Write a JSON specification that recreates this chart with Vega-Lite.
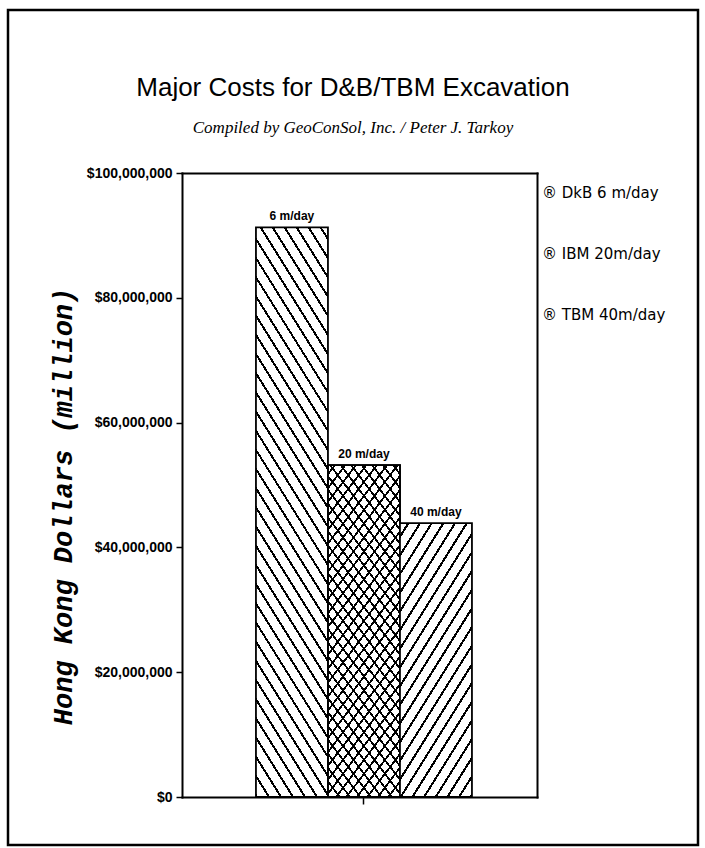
{
  "$schema": "https://vega.github.io/schema/vega-lite/v6.json",
  "width": 690,
  "height": 835,
  "autosize": {"type": "none"},
  "padding": {"left": 8, "top": 10, "right": 7, "bottom": 3},
  "background": "white",
  "title": {
    "text": "Major Costs for D&B/TBM Excavation",
    "subtitle": "Compiled by GeoConSol, Inc. / Peter J. Tarkoy",
    "anchor": "middle",
    "frame": "group",
    "orient": "top",
    "offset": 0,
    "dy": 126,
    "font": "Liberation Sans",
    "fontSize": 26,
    "fontWeight": "normal",
    "color": "black",
    "subtitleFont": "Liberation Serif",
    "subtitleFontStyle": "italic",
    "subtitleFontSize": 17,
    "subtitleColor": "black",
    "subtitlePadding": 19
  },
  "data": {
    "values": [
      {"series": "DkB", "value": 91300000, "label": "6 m/day", "legend": "® DkB 6 m/day"},
      {"series": "IBM", "value": 53200000, "label": "20 m/day", "legend": "® IBM 20m/day"},
      {"series": "TBM", "value": 43900000, "label": "40 m/day", "legend": "® TBM 40m/day"}
    ]
  },
  "resolve": {"axis": {"x": "independent", "y": "independent"}},
  "layer": [
    {
      "transform": [{"filter": "datum.series === 'DkB'"}],
      "mark": {
        "type": "bar", "stroke": "black", "strokeWidth": 1.8,
        "fill": {"gradient": "linear", "x1": 0, "y1": 1, "x2": 0.2336, "y2": -0.155, "stops": [
          {"offset":0,"color":"#000"},{"offset":0.0055,"color":"#000"},{"offset":0.0055,"color":"#fff"},{"offset":0.028,"color":"#fff"},
          {"offset":0.028,"color":"#000"},{"offset":0.0335,"color":"#000"},{"offset":0.0335,"color":"#fff"},{"offset":0.056,"color":"#fff"},
          {"offset":0.056,"color":"#000"},{"offset":0.0615,"color":"#000"},{"offset":0.0615,"color":"#fff"},{"offset":0.084,"color":"#fff"},
          {"offset":0.084,"color":"#000"},{"offset":0.0895,"color":"#000"},{"offset":0.0895,"color":"#fff"},{"offset":0.112,"color":"#fff"},
          {"offset":0.112,"color":"#000"},{"offset":0.1175,"color":"#000"},{"offset":0.1175,"color":"#fff"},{"offset":0.14,"color":"#fff"},
          {"offset":0.14,"color":"#000"},{"offset":0.1455,"color":"#000"},{"offset":0.1455,"color":"#fff"},{"offset":0.168,"color":"#fff"},
          {"offset":0.168,"color":"#000"},{"offset":0.1735,"color":"#000"},{"offset":0.1735,"color":"#fff"},{"offset":0.196,"color":"#fff"},
          {"offset":0.196,"color":"#000"},{"offset":0.2015,"color":"#000"},{"offset":0.2015,"color":"#fff"},{"offset":0.224,"color":"#fff"},
          {"offset":0.224,"color":"#000"},{"offset":0.2295,"color":"#000"},{"offset":0.2295,"color":"#fff"},{"offset":0.252,"color":"#fff"},
          {"offset":0.252,"color":"#000"},{"offset":0.2575,"color":"#000"},{"offset":0.2575,"color":"#fff"},{"offset":0.28,"color":"#fff"},
          {"offset":0.28,"color":"#000"},{"offset":0.2855,"color":"#000"},{"offset":0.2855,"color":"#fff"},{"offset":0.308,"color":"#fff"},
          {"offset":0.308,"color":"#000"},{"offset":0.3135,"color":"#000"},{"offset":0.3135,"color":"#fff"},{"offset":0.336,"color":"#fff"},
          {"offset":0.336,"color":"#000"},{"offset":0.3415,"color":"#000"},{"offset":0.3415,"color":"#fff"},{"offset":0.364,"color":"#fff"},
          {"offset":0.364,"color":"#000"},{"offset":0.3695,"color":"#000"},{"offset":0.3695,"color":"#fff"},{"offset":0.392,"color":"#fff"},
          {"offset":0.392,"color":"#000"},{"offset":0.3975,"color":"#000"},{"offset":0.3975,"color":"#fff"},{"offset":0.42,"color":"#fff"},
          {"offset":0.42,"color":"#000"},{"offset":0.4255,"color":"#000"},{"offset":0.4255,"color":"#fff"},{"offset":0.448,"color":"#fff"},
          {"offset":0.448,"color":"#000"},{"offset":0.4535,"color":"#000"},{"offset":0.4535,"color":"#fff"},{"offset":0.476,"color":"#fff"},
          {"offset":0.476,"color":"#000"},{"offset":0.4815,"color":"#000"},{"offset":0.4815,"color":"#fff"},{"offset":0.504,"color":"#fff"},
          {"offset":0.504,"color":"#000"},{"offset":0.5095,"color":"#000"},{"offset":0.5095,"color":"#fff"},{"offset":0.532,"color":"#fff"},
          {"offset":0.532,"color":"#000"},{"offset":0.5375,"color":"#000"},{"offset":0.5375,"color":"#fff"},{"offset":0.56,"color":"#fff"},
          {"offset":0.56,"color":"#000"},{"offset":0.5655,"color":"#000"},{"offset":0.5655,"color":"#fff"},{"offset":0.588,"color":"#fff"},
          {"offset":0.588,"color":"#000"},{"offset":0.5935,"color":"#000"},{"offset":0.5935,"color":"#fff"},{"offset":0.616,"color":"#fff"},
          {"offset":0.616,"color":"#000"},{"offset":0.6215,"color":"#000"},{"offset":0.6215,"color":"#fff"},{"offset":0.644,"color":"#fff"},
          {"offset":0.644,"color":"#000"},{"offset":0.6495,"color":"#000"},{"offset":0.6495,"color":"#fff"},{"offset":0.672,"color":"#fff"},
          {"offset":0.672,"color":"#000"},{"offset":0.6775,"color":"#000"},{"offset":0.6775,"color":"#fff"},{"offset":0.7,"color":"#fff"},
          {"offset":0.7,"color":"#000"},{"offset":0.7055,"color":"#000"},{"offset":0.7055,"color":"#fff"},{"offset":0.728,"color":"#fff"},
          {"offset":0.728,"color":"#000"},{"offset":0.7335,"color":"#000"},{"offset":0.7335,"color":"#fff"},{"offset":0.756,"color":"#fff"},
          {"offset":0.756,"color":"#000"},{"offset":0.7615,"color":"#000"},{"offset":0.7615,"color":"#fff"},{"offset":0.784,"color":"#fff"},
          {"offset":0.784,"color":"#000"},{"offset":0.7895,"color":"#000"},{"offset":0.7895,"color":"#fff"},{"offset":0.812,"color":"#fff"},
          {"offset":0.812,"color":"#000"},{"offset":0.8175,"color":"#000"},{"offset":0.8175,"color":"#fff"},{"offset":0.84,"color":"#fff"},
          {"offset":0.84,"color":"#000"},{"offset":0.8455,"color":"#000"},{"offset":0.8455,"color":"#fff"},{"offset":0.868,"color":"#fff"},
          {"offset":0.868,"color":"#000"},{"offset":0.8735,"color":"#000"},{"offset":0.8735,"color":"#fff"},{"offset":0.896,"color":"#fff"},
          {"offset":0.896,"color":"#000"},{"offset":0.9015,"color":"#000"},{"offset":0.9015,"color":"#fff"},{"offset":0.924,"color":"#fff"},
          {"offset":0.924,"color":"#000"},{"offset":0.9295,"color":"#000"},{"offset":0.9295,"color":"#fff"},{"offset":0.952,"color":"#fff"},
          {"offset":0.952,"color":"#000"},{"offset":0.9575,"color":"#000"},{"offset":0.9575,"color":"#fff"},{"offset":0.98,"color":"#fff"},
          {"offset":0.98,"color":"#000"},{"offset":0.9855,"color":"#000"},{"offset":0.9855,"color":"#fff"},{"offset":1,"color":"#fff"}
        ]}
      },
      "encoding": {
        "x": {"field": "series", "type": "nominal", "sort": ["DkB", "IBM", "TBM"],
          "scale": {"domain": ["DkB", "IBM", "TBM"], "range": [174, 529], "paddingInner": 0, "paddingOuter": 0.9653, "align": 0.532},
          "axis": {"orient": "bottom", "offset": -48, "values": ["IBM"], "labels": false, "ticks": true, "tickSize": 7, "tickColor": "black", "tickWidth": 1.5, "domainColor": "black", "domainWidth": 2, "title": null, "grid": false}},
        "y": {"field": "value", "type": "quantitative",
          "scale": {"domain": [0, 100000000], "range": [787, 163], "nice": false, "zero": true},
          "axis": {"orient": "left", "offset": -174, "values": [0, 20000000, 40000000, 60000000, 80000000, 100000000], "format": "$,.0f",
            "labelFont": "Liberation Sans", "labelFontWeight": "bold", "labelFontSize": 14, "labelColor": "black", "labelPadding": 4,
            "tickSize": 6, "tickColor": "black", "tickWidth": 1.5, "domainColor": "black", "domainWidth": 2, "grid": false,
            "title": "Hong Kong Dollars (million)", "titleFont": "'Liberation Mono', monospace", "titleFontStyle": "italic", "titleFontWeight": "bold", "titleFontSize": 27, "titleColor": "black",
            "titleAngle": 270, "titleAlign": "center", "titleBaseline": "middle", "titleX": -119, "titleY": 496}}
      }
    },
    {
      "transform": [{"filter": "datum.series === 'IBM'"}],
      "mark": {
        "type": "bar", "stroke": "black", "strokeWidth": 1.8,
        "fill": {"gradient": "linear", "x1": 0, "y1": 1, "x2": 0.3422, "y2": -0.1893, "stops": [
          {"offset":0,"color":"#000"},{"offset":0.007,"color":"#000"},{"offset":0.007,"color":"#fff"},{"offset":0.0325,"color":"#fff"},
          {"offset":0.0325,"color":"#000"},{"offset":0.0395,"color":"#000"},{"offset":0.0395,"color":"#fff"},{"offset":0.065,"color":"#fff"},
          {"offset":0.065,"color":"#000"},{"offset":0.072,"color":"#000"},{"offset":0.072,"color":"#fff"},{"offset":0.0975,"color":"#fff"},
          {"offset":0.0975,"color":"#000"},{"offset":0.1045,"color":"#000"},{"offset":0.1045,"color":"#fff"},{"offset":0.13,"color":"#fff"},
          {"offset":0.13,"color":"#000"},{"offset":0.137,"color":"#000"},{"offset":0.137,"color":"#fff"},{"offset":0.1625,"color":"#fff"},
          {"offset":0.1625,"color":"#000"},{"offset":0.1695,"color":"#000"},{"offset":0.1695,"color":"#fff"},{"offset":0.195,"color":"#fff"},
          {"offset":0.195,"color":"#000"},{"offset":0.202,"color":"#000"},{"offset":0.202,"color":"#fff"},{"offset":0.2275,"color":"#fff"},
          {"offset":0.2275,"color":"#000"},{"offset":0.2345,"color":"#000"},{"offset":0.2345,"color":"#fff"},{"offset":0.26,"color":"#fff"},
          {"offset":0.26,"color":"#000"},{"offset":0.267,"color":"#000"},{"offset":0.267,"color":"#fff"},{"offset":0.2925,"color":"#fff"},
          {"offset":0.2925,"color":"#000"},{"offset":0.2995,"color":"#000"},{"offset":0.2995,"color":"#fff"},{"offset":0.325,"color":"#fff"},
          {"offset":0.325,"color":"#000"},{"offset":0.332,"color":"#000"},{"offset":0.332,"color":"#fff"},{"offset":0.3575,"color":"#fff"},
          {"offset":0.3575,"color":"#000"},{"offset":0.3645,"color":"#000"},{"offset":0.3645,"color":"#fff"},{"offset":0.39,"color":"#fff"},
          {"offset":0.39,"color":"#000"},{"offset":0.397,"color":"#000"},{"offset":0.397,"color":"#fff"},{"offset":0.4225,"color":"#fff"},
          {"offset":0.4225,"color":"#000"},{"offset":0.4295,"color":"#000"},{"offset":0.4295,"color":"#fff"},{"offset":0.455,"color":"#fff"},
          {"offset":0.455,"color":"#000"},{"offset":0.462,"color":"#000"},{"offset":0.462,"color":"#fff"},{"offset":0.4875,"color":"#fff"},
          {"offset":0.4875,"color":"#000"},{"offset":0.4945,"color":"#000"},{"offset":0.4945,"color":"#fff"},{"offset":0.52,"color":"#fff"},
          {"offset":0.52,"color":"#000"},{"offset":0.527,"color":"#000"},{"offset":0.527,"color":"#fff"},{"offset":0.5525,"color":"#fff"},
          {"offset":0.5525,"color":"#000"},{"offset":0.5595,"color":"#000"},{"offset":0.5595,"color":"#fff"},{"offset":0.585,"color":"#fff"},
          {"offset":0.585,"color":"#000"},{"offset":0.592,"color":"#000"},{"offset":0.592,"color":"#fff"},{"offset":0.6175,"color":"#fff"},
          {"offset":0.6175,"color":"#000"},{"offset":0.6245,"color":"#000"},{"offset":0.6245,"color":"#fff"},{"offset":0.65,"color":"#fff"},
          {"offset":0.65,"color":"#000"},{"offset":0.657,"color":"#000"},{"offset":0.657,"color":"#fff"},{"offset":0.6825,"color":"#fff"},
          {"offset":0.6825,"color":"#000"},{"offset":0.6895,"color":"#000"},{"offset":0.6895,"color":"#fff"},{"offset":0.715,"color":"#fff"},
          {"offset":0.715,"color":"#000"},{"offset":0.722,"color":"#000"},{"offset":0.722,"color":"#fff"},{"offset":0.7475,"color":"#fff"},
          {"offset":0.7475,"color":"#000"},{"offset":0.7545,"color":"#000"},{"offset":0.7545,"color":"#fff"},{"offset":0.78,"color":"#fff"},
          {"offset":0.78,"color":"#000"},{"offset":0.787,"color":"#000"},{"offset":0.787,"color":"#fff"},{"offset":0.8125,"color":"#fff"},
          {"offset":0.8125,"color":"#000"},{"offset":0.8195,"color":"#000"},{"offset":0.8195,"color":"#fff"},{"offset":0.845,"color":"#fff"},
          {"offset":0.845,"color":"#000"},{"offset":0.852,"color":"#000"},{"offset":0.852,"color":"#fff"},{"offset":0.8775,"color":"#fff"},
          {"offset":0.8775,"color":"#000"},{"offset":0.8845,"color":"#000"},{"offset":0.8845,"color":"#fff"},{"offset":0.91,"color":"#fff"},
          {"offset":0.91,"color":"#000"},{"offset":0.917,"color":"#000"},{"offset":0.917,"color":"#fff"},{"offset":0.9425,"color":"#fff"},
          {"offset":0.9425,"color":"#000"},{"offset":0.9495,"color":"#000"},{"offset":0.9495,"color":"#fff"},{"offset":0.975,"color":"#fff"},
          {"offset":0.975,"color":"#000"},{"offset":0.982,"color":"#000"},{"offset":0.982,"color":"#fff"},{"offset":1,"color":"#fff"}
        ]}
      },
      "encoding": {
        "x": {"field": "series", "type": "nominal", "sort": ["DkB", "IBM", "TBM"], "scale": {"domain": ["DkB", "IBM", "TBM"], "range": [174, 529], "paddingInner": 0, "paddingOuter": 0.9653, "align": 0.532}, "axis": null},
        "y": {"field": "value", "type": "quantitative", "scale": {"domain": [0, 100000000], "range": [787, 163], "nice": false, "zero": true}, "axis": null}
      }
    },
    {
      "transform": [{"filter": "datum.series === 'IBM'"}],
      "mark": {
        "type": "bar", "stroke": "black", "strokeWidth": 1.8,
        "fill": {"gradient": "linear", "x1": 1, "y1": 1, "x2": 0.6578, "y2": -0.1893, "stops": [
          {"offset":0,"color":"#000"},{"offset":0.007,"color":"#000"},{"offset":0.007,"color":"rgba(255,255,255,0)"},{"offset":0.0325,"color":"rgba(255,255,255,0)"},
          {"offset":0.0325,"color":"#000"},{"offset":0.0395,"color":"#000"},{"offset":0.0395,"color":"rgba(255,255,255,0)"},{"offset":0.065,"color":"rgba(255,255,255,0)"},
          {"offset":0.065,"color":"#000"},{"offset":0.072,"color":"#000"},{"offset":0.072,"color":"rgba(255,255,255,0)"},{"offset":0.0975,"color":"rgba(255,255,255,0)"},
          {"offset":0.0975,"color":"#000"},{"offset":0.1045,"color":"#000"},{"offset":0.1045,"color":"rgba(255,255,255,0)"},{"offset":0.13,"color":"rgba(255,255,255,0)"},
          {"offset":0.13,"color":"#000"},{"offset":0.137,"color":"#000"},{"offset":0.137,"color":"rgba(255,255,255,0)"},{"offset":0.1625,"color":"rgba(255,255,255,0)"},
          {"offset":0.1625,"color":"#000"},{"offset":0.1695,"color":"#000"},{"offset":0.1695,"color":"rgba(255,255,255,0)"},{"offset":0.195,"color":"rgba(255,255,255,0)"},
          {"offset":0.195,"color":"#000"},{"offset":0.202,"color":"#000"},{"offset":0.202,"color":"rgba(255,255,255,0)"},{"offset":0.2275,"color":"rgba(255,255,255,0)"},
          {"offset":0.2275,"color":"#000"},{"offset":0.2345,"color":"#000"},{"offset":0.2345,"color":"rgba(255,255,255,0)"},{"offset":0.26,"color":"rgba(255,255,255,0)"},
          {"offset":0.26,"color":"#000"},{"offset":0.267,"color":"#000"},{"offset":0.267,"color":"rgba(255,255,255,0)"},{"offset":0.2925,"color":"rgba(255,255,255,0)"},
          {"offset":0.2925,"color":"#000"},{"offset":0.2995,"color":"#000"},{"offset":0.2995,"color":"rgba(255,255,255,0)"},{"offset":0.325,"color":"rgba(255,255,255,0)"},
          {"offset":0.325,"color":"#000"},{"offset":0.332,"color":"#000"},{"offset":0.332,"color":"rgba(255,255,255,0)"},{"offset":0.3575,"color":"rgba(255,255,255,0)"},
          {"offset":0.3575,"color":"#000"},{"offset":0.3645,"color":"#000"},{"offset":0.3645,"color":"rgba(255,255,255,0)"},{"offset":0.39,"color":"rgba(255,255,255,0)"},
          {"offset":0.39,"color":"#000"},{"offset":0.397,"color":"#000"},{"offset":0.397,"color":"rgba(255,255,255,0)"},{"offset":0.4225,"color":"rgba(255,255,255,0)"},
          {"offset":0.4225,"color":"#000"},{"offset":0.4295,"color":"#000"},{"offset":0.4295,"color":"rgba(255,255,255,0)"},{"offset":0.455,"color":"rgba(255,255,255,0)"},
          {"offset":0.455,"color":"#000"},{"offset":0.462,"color":"#000"},{"offset":0.462,"color":"rgba(255,255,255,0)"},{"offset":0.4875,"color":"rgba(255,255,255,0)"},
          {"offset":0.4875,"color":"#000"},{"offset":0.4945,"color":"#000"},{"offset":0.4945,"color":"rgba(255,255,255,0)"},{"offset":0.52,"color":"rgba(255,255,255,0)"},
          {"offset":0.52,"color":"#000"},{"offset":0.527,"color":"#000"},{"offset":0.527,"color":"rgba(255,255,255,0)"},{"offset":0.5525,"color":"rgba(255,255,255,0)"},
          {"offset":0.5525,"color":"#000"},{"offset":0.5595,"color":"#000"},{"offset":0.5595,"color":"rgba(255,255,255,0)"},{"offset":0.585,"color":"rgba(255,255,255,0)"},
          {"offset":0.585,"color":"#000"},{"offset":0.592,"color":"#000"},{"offset":0.592,"color":"rgba(255,255,255,0)"},{"offset":0.6175,"color":"rgba(255,255,255,0)"},
          {"offset":0.6175,"color":"#000"},{"offset":0.6245,"color":"#000"},{"offset":0.6245,"color":"rgba(255,255,255,0)"},{"offset":0.65,"color":"rgba(255,255,255,0)"},
          {"offset":0.65,"color":"#000"},{"offset":0.657,"color":"#000"},{"offset":0.657,"color":"rgba(255,255,255,0)"},{"offset":0.6825,"color":"rgba(255,255,255,0)"},
          {"offset":0.6825,"color":"#000"},{"offset":0.6895,"color":"#000"},{"offset":0.6895,"color":"rgba(255,255,255,0)"},{"offset":0.715,"color":"rgba(255,255,255,0)"},
          {"offset":0.715,"color":"#000"},{"offset":0.722,"color":"#000"},{"offset":0.722,"color":"rgba(255,255,255,0)"},{"offset":0.7475,"color":"rgba(255,255,255,0)"},
          {"offset":0.7475,"color":"#000"},{"offset":0.7545,"color":"#000"},{"offset":0.7545,"color":"rgba(255,255,255,0)"},{"offset":0.78,"color":"rgba(255,255,255,0)"},
          {"offset":0.78,"color":"#000"},{"offset":0.787,"color":"#000"},{"offset":0.787,"color":"rgba(255,255,255,0)"},{"offset":0.8125,"color":"rgba(255,255,255,0)"},
          {"offset":0.8125,"color":"#000"},{"offset":0.8195,"color":"#000"},{"offset":0.8195,"color":"rgba(255,255,255,0)"},{"offset":0.845,"color":"rgba(255,255,255,0)"},
          {"offset":0.845,"color":"#000"},{"offset":0.852,"color":"#000"},{"offset":0.852,"color":"rgba(255,255,255,0)"},{"offset":0.8775,"color":"rgba(255,255,255,0)"},
          {"offset":0.8775,"color":"#000"},{"offset":0.8845,"color":"#000"},{"offset":0.8845,"color":"rgba(255,255,255,0)"},{"offset":0.91,"color":"rgba(255,255,255,0)"},
          {"offset":0.91,"color":"#000"},{"offset":0.917,"color":"#000"},{"offset":0.917,"color":"rgba(255,255,255,0)"},{"offset":0.9425,"color":"rgba(255,255,255,0)"},
          {"offset":0.9425,"color":"#000"},{"offset":0.9495,"color":"#000"},{"offset":0.9495,"color":"rgba(255,255,255,0)"},{"offset":0.975,"color":"rgba(255,255,255,0)"},
          {"offset":0.975,"color":"#000"},{"offset":0.982,"color":"#000"},{"offset":0.982,"color":"rgba(255,255,255,0)"},{"offset":1,"color":"rgba(255,255,255,0)"}
        ]}
      },
      "encoding": {
        "x": {"field": "series", "type": "nominal", "sort": ["DkB", "IBM", "TBM"], "scale": {"domain": ["DkB", "IBM", "TBM"], "range": [174, 529], "paddingInner": 0, "paddingOuter": 0.9653, "align": 0.532}, "axis": null},
        "y": {"field": "value", "type": "quantitative", "scale": {"domain": [0, 100000000], "range": [787, 163], "nice": false, "zero": true}, "axis": null}
      }
    },
    {
      "transform": [{"filter": "datum.series === 'TBM'"}],
      "mark": {
        "type": "bar", "stroke": "black", "strokeWidth": 1.8,
        "fill": {"gradient": "linear", "x1": 1, "y1": 1, "x2": 0.4923, "y2": -0.2071, "stops": [
          {"offset":0,"color":"#000"},{"offset":0.01,"color":"#000"},{"offset":0.01,"color":"#fff"},{"offset":0.048,"color":"#fff"},
          {"offset":0.048,"color":"#000"},{"offset":0.058,"color":"#000"},{"offset":0.058,"color":"#fff"},{"offset":0.096,"color":"#fff"},
          {"offset":0.096,"color":"#000"},{"offset":0.106,"color":"#000"},{"offset":0.106,"color":"#fff"},{"offset":0.144,"color":"#fff"},
          {"offset":0.144,"color":"#000"},{"offset":0.154,"color":"#000"},{"offset":0.154,"color":"#fff"},{"offset":0.192,"color":"#fff"},
          {"offset":0.192,"color":"#000"},{"offset":0.202,"color":"#000"},{"offset":0.202,"color":"#fff"},{"offset":0.24,"color":"#fff"},
          {"offset":0.24,"color":"#000"},{"offset":0.25,"color":"#000"},{"offset":0.25,"color":"#fff"},{"offset":0.288,"color":"#fff"},
          {"offset":0.288,"color":"#000"},{"offset":0.298,"color":"#000"},{"offset":0.298,"color":"#fff"},{"offset":0.336,"color":"#fff"},
          {"offset":0.336,"color":"#000"},{"offset":0.346,"color":"#000"},{"offset":0.346,"color":"#fff"},{"offset":0.384,"color":"#fff"},
          {"offset":0.384,"color":"#000"},{"offset":0.394,"color":"#000"},{"offset":0.394,"color":"#fff"},{"offset":0.432,"color":"#fff"},
          {"offset":0.432,"color":"#000"},{"offset":0.442,"color":"#000"},{"offset":0.442,"color":"#fff"},{"offset":0.48,"color":"#fff"},
          {"offset":0.48,"color":"#000"},{"offset":0.49,"color":"#000"},{"offset":0.49,"color":"#fff"},{"offset":0.528,"color":"#fff"},
          {"offset":0.528,"color":"#000"},{"offset":0.538,"color":"#000"},{"offset":0.538,"color":"#fff"},{"offset":0.576,"color":"#fff"},
          {"offset":0.576,"color":"#000"},{"offset":0.586,"color":"#000"},{"offset":0.586,"color":"#fff"},{"offset":0.624,"color":"#fff"},
          {"offset":0.624,"color":"#000"},{"offset":0.634,"color":"#000"},{"offset":0.634,"color":"#fff"},{"offset":0.672,"color":"#fff"},
          {"offset":0.672,"color":"#000"},{"offset":0.682,"color":"#000"},{"offset":0.682,"color":"#fff"},{"offset":0.72,"color":"#fff"},
          {"offset":0.72,"color":"#000"},{"offset":0.73,"color":"#000"},{"offset":0.73,"color":"#fff"},{"offset":0.768,"color":"#fff"},
          {"offset":0.768,"color":"#000"},{"offset":0.778,"color":"#000"},{"offset":0.778,"color":"#fff"},{"offset":0.816,"color":"#fff"},
          {"offset":0.816,"color":"#000"},{"offset":0.826,"color":"#000"},{"offset":0.826,"color":"#fff"},{"offset":0.864,"color":"#fff"},
          {"offset":0.864,"color":"#000"},{"offset":0.874,"color":"#000"},{"offset":0.874,"color":"#fff"},{"offset":0.912,"color":"#fff"},
          {"offset":0.912,"color":"#000"},{"offset":0.922,"color":"#000"},{"offset":0.922,"color":"#fff"},{"offset":0.96,"color":"#fff"},
          {"offset":0.96,"color":"#000"},{"offset":0.97,"color":"#000"},{"offset":0.97,"color":"#fff"},{"offset":1,"color":"#fff"}
        ]}
      },
      "encoding": {
        "x": {"field": "series", "type": "nominal", "sort": ["DkB", "IBM", "TBM"], "scale": {"domain": ["DkB", "IBM", "TBM"], "range": [174, 529], "paddingInner": 0, "paddingOuter": 0.9653, "align": 0.532}, "axis": null},
        "y": {"field": "value", "type": "quantitative", "scale": {"domain": [0, 100000000], "range": [787, 163], "nice": false, "zero": true}, "axis": null}
      }
    },
    {
      "mark": {"type": "text", "dy": -4, "baseline": "bottom", "align": "center", "font": "Liberation Sans", "fontSize": 12, "fontWeight": "bold"},
      "encoding": {
        "x": {"field": "series", "type": "nominal", "sort": ["DkB", "IBM", "TBM"],
          "scale": {"domain": ["DkB", "IBM", "TBM"], "range": [174, 529], "paddingInner": 0, "paddingOuter": 0.9653, "align": 0.532},
          "axis": {"orient": "top", "offset": -163, "labels": false, "ticks": false, "domainColor": "black", "domainWidth": 2, "title": null, "grid": false}},
        "y": {"field": "value", "type": "quantitative",
          "scale": {"domain": [0, 100000000], "range": [787, 163], "nice": false, "zero": true},
          "axis": {"orient": "right", "offset": -161, "labels": false, "ticks": false, "domainColor": "black", "domainWidth": 2, "title": null, "grid": false}},
        "text": {"field": "label", "type": "nominal"},
        "color": {"field": "legend", "type": "nominal",
          "scale": {"domain": ["® DkB 6 m/day", "® IBM 20m/day", "® TBM 40m/day"], "range": ["black", "black", "black"]},
          "legend": {"orient": "none", "legendX": 519, "legendY": 175, "title": null, "padding": 0, "symbolSize": 0, "symbolOpacity": 0, "symbolStrokeWidth": 0, "labelOffset": 0,
            "labelFont": "DejaVu Sans", "labelFontSize": 15, "labelColor": "black", "rowPadding": 45, "labelLimit": 300}}
      }
    }
  ],
  "config": {
    "view": {"stroke": "black", "strokeWidth": 2.5},
    "axis": {"domainCap": "square"}
  }
}
